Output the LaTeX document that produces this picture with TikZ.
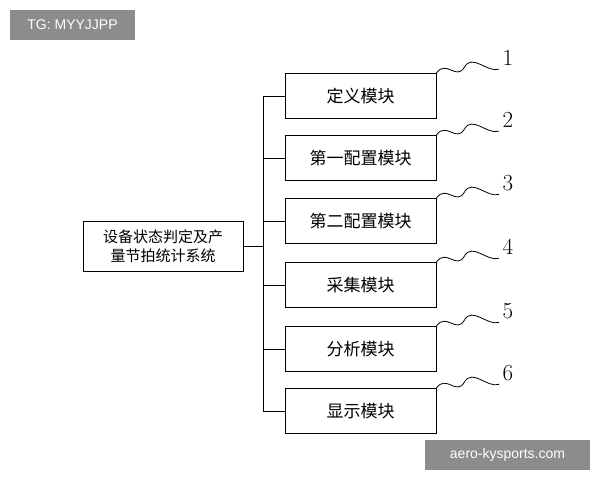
\documentclass[tikz,border=0pt]{standalone}
\usepackage{fontspec}
\newfontfamily\cjk{Noto Sans CJK SC}
\newfontfamily\wm{Liberation Sans}
\begin{document}
\begin{tikzpicture}[x=1pt,y=-1pt,
  mod/.style={draw,thick,minimum width=151pt,minimum height=45pt,font=\cjk\fontsize{17}{17}\selectfont,inner sep=0pt},
  lnk/.style={thick},
  num/.style={font=\fontsize{23}{23}\selectfont},
  wmk/.style={fill=black!45,text=white,font=\wm\fontsize{14}{14}\selectfont,inner sep=0pt}]
\useasboundingbox (0,0) rectangle (600,480);
\node[draw,thick,minimum width=160pt,minimum height=50pt,align=center,font=\cjk\fontsize{15}{19}\selectfont,inner sep=0pt] (sys) at (163,246) {设备状态判定及产\\量节拍统计系统};
\coordinate (top) at (263,96);
\coordinate (bot) at (263,411);
\coordinate (j) at (263,246);
\draw[lnk] (top) -- (bot);
\draw[lnk] (sys.east) -- (j);
\foreach \i/\y/\t in {1/96/定义模块,2/158/第一配置模块,3/221/第二配置模块,4/285/采集模块,5/349/分析模块,6/411/显示模块}{
  \node[mod] (m\i) at (360.5,\y) {\t};
  \coordinate (b\i) at (263,\y);
  \draw[lnk] (b\i) -- (m\i.west);
  \node[num] (n\i) at (508,\y-38) {\i};
  \draw[thick] (m\i.north east) .. controls +(10,-14) and +(-8,14) .. ++(28,-6)
     .. controls +(8,-14) and +(-12,4) .. (n\i.south west);
}
\node[wmk,minimum width=125pt,minimum height=30pt] (w1) at (72.5,25) {TG: MYYJJPP};
\node[wmk,minimum width=165pt,minimum height=30pt] (w2) at (507.5,455) {aero-kysports.com};
\end{tikzpicture}
\end{document}
